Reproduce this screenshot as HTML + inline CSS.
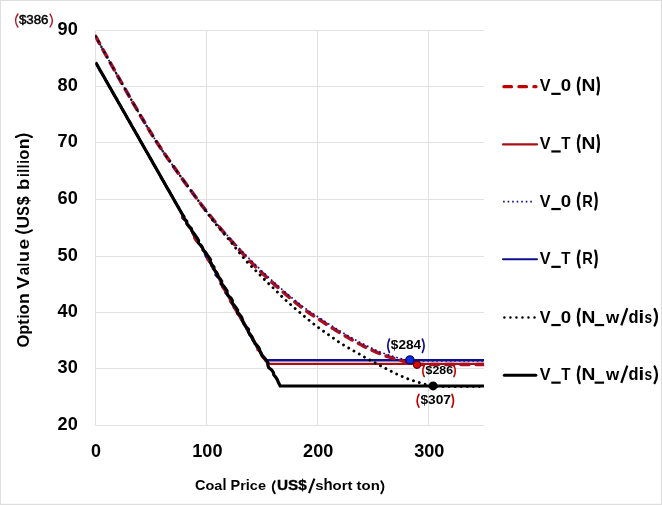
<!DOCTYPE html>
<html lang="en"><head><meta charset="utf-8"><title>Option Value vs Coal Price</title>
<style>html,body{margin:0;padding:0;background:#fff;}svg{display:block;font-family:'Liberation Sans', sans-serif;}text{font-family:'Liberation Sans', sans-serif;fill:#000;}.b{font-weight:700;}</style></head><body>
<svg width="662" height="505" viewBox="0 0 662 505">
<rect x="0" y="0" width="662" height="505" fill="#ffffff"/>
<g fill="#dedede"><rect x="0" y="0" width="662" height="1"/><rect x="0" y="0" width="1" height="505"/><rect x="660.9" y="0" width="1.1" height="505"/><rect x="0" y="503.8" width="662" height="1.2"/></g>
<g stroke="#e1e1e1" stroke-width="1" fill="none" shape-rendering="auto">
<line x1="95.0" y1="425.5" x2="484.0" y2="425.5"/>
<line x1="95.0" y1="368.5" x2="484.0" y2="368.5"/>
<line x1="95.0" y1="312.5" x2="484.0" y2="312.5"/>
<line x1="95.0" y1="256.5" x2="484.0" y2="256.5"/>
<line x1="95.0" y1="199.5" x2="484.0" y2="199.5"/>
<line x1="95.0" y1="142.5" x2="484.0" y2="142.5"/>
<line x1="95.0" y1="86.5" x2="484.0" y2="86.5"/>
<line x1="95.0" y1="30.5" x2="484.0" y2="30.5"/>
<line x1="95.5" y1="30.1" x2="95.5" y2="425.9"/>
<line x1="206.5" y1="30.1" x2="206.5" y2="425.9"/>
<line x1="317.5" y1="30.1" x2="317.5" y2="425.9"/>
<line x1="428.5" y1="30.1" x2="428.5" y2="425.9"/>
</g>
<defs><clipPath id="cP"><rect x="95.2" y="29" width="388.9" height="398"/></clipPath></defs>
<g fill="none" stroke-linejoin="round" clip-path="url(#cP)">
<path d="M97.0,64.8 L98.7,67.8 L100.4,70.8 L102.2,73.8 L103.9,76.8 L105.6,79.8 L107.3,82.8 L109.0,85.8 L110.7,88.8 L112.4,91.8 L114.1,94.8 L115.8,97.8 L117.6,100.8 L119.3,103.8 L121.0,106.8 L122.7,109.8 L124.4,112.8 L126.1,115.8 L127.8,118.8 L129.5,121.8 L131.2,124.8 L133.0,127.8 L134.7,130.8 L136.4,133.8 L138.1,136.8 L139.8,139.8 L141.5,142.8 L143.2,145.8 L144.9,148.8 L146.6,151.8 L148.4,154.8 L150.1,157.8 L151.8,160.8 L153.5,163.8 L155.2,166.8 L156.9,169.8 L158.6,172.8 L160.3,175.8 L162.0,178.8 L163.7,181.8 L165.5,184.8 L167.2,187.8 L168.9,190.8 L170.6,193.8 L172.3,196.8 L174.0,199.8 L175.7,202.8 L177.4,205.8 L179.2,208.8 L180.9,211.8 L182.6,214.8 L182.3,217.8 L185.9,220.8 L186.8,223.8 L189.3,226.8 L191.8,229.8 L192.4,232.8 L194.2,235.8 L194.9,238.8 L197.3,241.8 L199.8,244.8 L202.2,247.8 L204.3,250.8 L205.0,253.8 L206.0,256.8 L208.3,259.8 L211.5,262.8 L211.3,265.8 L213.5,268.8 L216.3,271.8 L215.5,274.8 L218.5,277.8 L221.0,280.8 L220.7,283.8 L223.1,286.8 L225.7,289.8 L225.3,292.8 L228.0,295.8 L230.3,298.8 L231.8,301.8 L232.9,304.8 L233.9,307.8 L236.4,310.8 L237.8,313.8 L239.8,316.8 L241.2,319.8 L244.1,322.8 L245.7,325.8 L246.2,328.8 L248.6,331.8 L249.5,334.8 L251.7,337.8 L253.1,340.8 L255.6,343.8 L256.6,346.8 L258.5,349.8 L260.9,352.8 L261.9,355.8 L264.8,358.8 L265.2,360.3 L484.0,360.3" stroke="#10108c" stroke-width="2.4"/>
<path d="M97.0,64.8 L98.7,67.8 L100.4,70.8 L102.2,73.8 L103.9,76.8 L105.6,79.8 L107.3,82.8 L109.0,85.8 L110.7,88.8 L112.4,91.8 L114.1,94.8 L115.8,97.8 L117.6,100.8 L119.3,103.8 L121.0,106.8 L122.7,109.8 L124.4,112.8 L126.1,115.8 L127.8,118.8 L129.5,121.8 L131.2,124.8 L133.0,127.8 L134.7,130.8 L136.4,133.8 L138.1,136.8 L139.8,139.8 L141.5,142.8 L143.2,145.8 L144.9,148.8 L146.6,151.8 L148.4,154.8 L150.1,157.8 L151.8,160.8 L153.5,163.8 L155.2,166.8 L156.9,169.8 L158.6,172.8 L160.3,175.8 L162.0,178.8 L163.7,181.8 L165.5,184.8 L167.2,187.8 L168.9,190.8 L170.6,193.8 L172.3,196.8 L174.0,199.8 L175.7,202.8 L177.4,205.8 L179.2,208.8 L180.9,211.8 L182.6,214.8 L182.6,217.8 L186.0,220.8 L186.8,223.8 L188.6,226.8 L191.0,229.8 L192.5,232.8 L194.0,235.8 L194.7,238.8 L196.8,241.8 L200.6,244.8 L201.9,247.8 L204.2,250.8 L206.8,253.8 L207.8,256.8 L207.6,259.8 L210.0,262.8 L212.5,265.8 L212.9,268.8 L216.7,271.8 L218.2,274.8 L219.4,277.8 L219.8,280.8 L222.5,283.8 L222.0,286.8 L224.2,289.8 L226.3,292.8 L228.8,295.8 L229.7,298.8 L230.3,301.8 L232.6,304.8 L234.3,307.8 L235.9,310.8 L237.2,313.8 L239.7,316.8 L241.5,319.8 L244.2,322.8 L246.0,325.8 L246.8,328.8 L248.4,331.8 L251.0,334.8 L253.1,337.8 L254.1,340.8 L256.2,343.8 L258.4,346.8 L257.4,349.8 L261.6,352.8 L261.5,355.8 L263.8,358.8 L266.5,361.8 L267.3,363.9 L484.0,363.9" stroke="#a81016" stroke-width="2.3"/>
<path d="M95.6,36.3 L97.6,39.9 L99.6,43.6 L101.6,47.2 L103.6,50.8 L105.6,54.4 L107.6,58.0 L109.6,61.6 L111.6,65.1 L113.6,68.7 L115.6,72.3 L117.6,75.8 L119.6,79.4 L121.6,82.9 L123.6,86.4 L125.6,89.9 L127.6,93.4 L129.6,96.9 L131.6,100.3 L133.6,103.8 L135.6,107.2 L137.6,110.7 L139.6,114.1 L141.6,117.5 L143.6,120.8 L145.6,124.2 L147.6,127.4 L149.6,130.7 L151.6,134.0 L153.6,137.2 L155.6,140.3 L157.6,143.4 L159.6,146.4 L161.6,149.4 L163.6,152.4 L165.6,155.3 L167.6,158.2 L169.6,161.0 L171.6,163.8 L173.6,166.6 L175.6,169.4 L177.6,172.2 L179.6,175.0 L181.6,177.8 L183.6,180.6 L185.6,183.4 L187.6,186.1 L189.6,188.8 L191.6,191.5 L193.6,194.3 L195.6,197.0 L197.6,199.7 L199.6,202.4 L201.6,205.0 L203.6,207.6 L205.6,210.2 L207.6,212.7 L209.6,215.2 L211.6,217.7 L213.6,220.2 L215.6,222.7 L217.6,225.1 L219.6,227.5 L221.6,229.9 L223.6,232.2 L225.6,234.5 L227.6,236.7 L229.6,238.9 L231.6,241.2 L233.6,243.4 L235.6,245.6 L237.6,247.8 L239.6,250.1 L241.6,252.3 L243.6,254.4 L245.6,256.6 L247.6,258.7 L249.6,260.8 L251.6,262.8 L253.6,264.8 L255.6,266.8 L257.6,268.7 L259.6,270.6 L261.6,272.5 L263.6,274.4 L265.6,276.2 L267.6,278.1 L269.6,279.9 L271.6,281.8 L273.6,283.6 L275.6,285.4 L277.6,287.2 L279.6,288.9 L281.6,290.7 L283.6,292.4 L285.6,294.2 L287.6,295.9 L289.6,297.6 L291.6,299.2 L293.6,300.9 L295.6,302.5 L297.6,304.1 L299.6,305.7 L301.6,307.3 L303.6,308.8 L305.6,310.3 L307.6,311.8 L309.6,313.2 L311.6,314.5 L313.6,315.8 L315.6,317.1 L317.6,318.4 L319.6,319.7 L321.6,321.0 L323.6,322.4 L325.6,323.7 L327.6,325.0 L329.6,326.3 L331.6,327.6 L333.6,328.8 L335.6,330.1 L337.6,331.3 L339.6,332.6 L341.6,333.8 L343.6,335.0 L345.6,336.1 L347.6,337.3 L349.6,338.5 L351.6,339.6 L353.6,340.7 L355.6,341.8 L357.6,342.9 L359.6,344.0 L361.6,345.0 L363.6,346.1 L365.6,347.1 L367.6,348.1 L369.6,349.0 L371.6,350.0 L373.6,350.9 L375.6,351.8 L377.6,352.7 L379.6,353.5 L381.6,354.3 L383.6,355.1 L385.6,355.8 L387.6,356.5 L389.6,357.1 L391.6,357.8 L393.6,358.4 L395.6,358.9 L397.6,359.5 L399.6,360.1 L401.6,360.6 L403.6,361.2 L405.6,361.8 L407.6,362.4 L409.6,362.9 L411.6,363.3 L413.6,363.8 L415.6,364.2 L417.6,364.4 L419.6,364.4 L421.6,364.5 L423.6,364.5 L425.6,364.5 L427.6,364.5 L429.6,364.5 L431.6,364.5 L433.6,364.5 L435.6,364.5 L437.6,364.5 L439.6,364.5 L441.6,364.5 L443.6,364.5 L445.6,364.5 L447.6,364.5 L449.6,364.5 L451.6,364.5 L453.6,364.5 L455.6,364.5 L457.6,364.5 L459.6,364.5 L461.6,364.5 L463.6,364.5 L465.6,364.5 L467.6,364.5 L469.6,364.5 L471.6,364.5 L473.6,364.5 L475.6,364.5 L477.6,364.5 L479.6,364.5 L481.6,364.5 L483.6,364.5 L484.0,364.5" stroke="#ac0f20" stroke-width="3.6" stroke-dasharray="8 7.2" stroke-linecap="round"/>
<path d="M95.6,36.3 L97.6,39.9 L99.6,43.6 L101.6,47.2 L103.6,50.8 L105.6,54.4 L107.6,58.0 L109.6,61.6 L111.6,65.1 L113.6,68.7 L115.6,72.3 L117.6,75.8 L119.6,79.4 L121.6,82.9 L123.6,86.4 L125.6,89.9 L127.6,93.4 L129.6,96.9 L131.6,100.3 L133.6,103.8 L135.6,107.2 L137.6,110.7 L139.6,114.1 L141.6,117.5 L143.6,120.8 L145.6,124.2 L147.6,127.5 L149.6,130.7 L151.6,134.0 L153.6,137.2 L155.6,140.3 L157.6,143.4 L159.6,146.4 L161.6,149.4 L163.6,152.4 L165.6,155.3 L167.6,158.2 L169.6,161.0 L171.6,163.8 L173.6,166.6 L175.6,169.4 L177.6,172.2 L179.6,175.0 L181.6,177.8 L183.6,180.6 L185.6,183.4 L187.6,186.1 L189.6,188.9 L191.6,191.6 L193.6,194.4 L195.6,197.1 L197.6,199.7 L199.6,202.4 L201.6,205.0 L203.6,207.6 L205.6,210.1 L207.6,212.6 L209.6,215.1 L211.6,217.5 L213.6,219.9 L215.6,222.3 L217.6,224.6 L219.6,226.9 L221.6,229.1 L223.6,231.4 L225.6,233.5 L227.6,235.7 L229.6,237.9 L231.6,240.1 L233.6,242.2 L235.6,244.4 L237.6,246.5 L239.6,248.6 L241.6,250.8 L243.6,252.8 L245.6,254.9 L247.6,257.0 L249.6,259.0 L251.6,261.0 L253.6,263.0 L255.6,264.9 L257.6,266.9 L259.6,268.8 L261.6,270.8 L263.6,272.7 L265.6,274.5 L267.6,276.4 L269.6,278.2 L271.6,280.1 L273.6,281.9 L275.6,283.7 L277.6,285.5 L279.6,287.2 L281.6,289.0 L283.6,290.7 L285.6,292.5 L287.6,294.2 L289.6,295.9 L291.6,297.5 L293.6,299.2 L295.6,300.8 L297.6,302.4 L299.6,304.0 L301.6,305.6 L303.6,307.1 L305.6,308.6 L307.6,310.1 L309.6,311.5 L311.6,312.8 L313.6,314.1 L315.6,315.4 L317.6,316.7 L319.6,318.0 L321.6,319.3 L323.6,320.6 L325.6,321.9 L327.6,323.2 L329.6,324.5 L331.6,325.8 L333.6,327.0 L335.6,328.3 L337.6,329.5 L339.6,330.8 L341.6,332.0 L343.6,333.2 L345.6,334.4 L347.6,335.5 L349.6,336.7 L351.6,337.8 L353.6,338.9 L355.6,340.0 L357.6,341.1 L359.6,342.2 L361.6,343.2 L363.6,344.2 L365.6,345.2 L367.6,346.2 L369.6,347.2 L371.6,348.1 L373.6,349.1 L375.6,350.0 L377.6,350.8 L379.6,351.7 L381.6,352.4 L383.6,353.2 L385.6,353.9 L387.6,354.6 L389.6,355.3 L391.6,355.9 L393.6,356.5 L395.6,357.1 L397.6,357.7 L399.6,358.2 L401.6,358.7 L403.6,359.2 L405.6,359.7 L407.6,360.1 L409.6,360.4 L411.6,360.6 L413.6,360.7 L415.6,360.8 L417.6,360.9 L419.6,360.9 L421.6,360.9 L423.6,360.9 L425.6,360.9 L427.6,360.9 L429.6,360.9 L431.6,360.9 L433.6,360.9 L435.6,360.9 L437.6,360.9 L439.6,360.9 L441.6,360.9 L443.6,360.9 L445.6,360.9 L447.6,360.9 L449.6,360.9 L451.6,360.9 L453.6,360.9 L455.6,360.9 L457.6,360.9 L459.6,360.9 L461.6,360.9 L463.6,360.9 L465.6,360.9 L467.6,360.9 L469.6,360.9 L471.6,360.9 L473.6,360.9 L475.6,360.9 L477.6,360.9 L479.6,360.9 L481.6,360.9 L483.6,360.9 L484.0,360.9" stroke="#10108c" stroke-width="1.7" stroke-dasharray="1.7 2.8"/>
<defs><clipPath id="cA"><rect x="0" y="0" width="204" height="505"/></clipPath><clipPath id="cB"><rect x="204" y="0" width="458" height="505"/></clipPath></defs>
<path d="M95.6,36.3 L97.6,39.9 L99.6,43.6 L101.6,47.2 L103.6,50.8 L105.6,54.4 L107.6,58.0 L109.6,61.6 L111.6,65.1 L113.6,68.7 L115.6,72.3 L117.6,75.8 L119.6,79.4 L121.6,82.9 L123.6,86.4 L125.6,89.9 L127.6,93.4 L129.6,96.9 L131.6,100.3 L133.6,103.8 L135.6,107.2 L137.6,110.7 L139.6,114.1 L141.6,117.5 L143.6,120.8 L145.6,124.2 L147.6,127.4 L149.6,130.7 L151.6,134.0 L153.6,137.2 L155.6,140.3 L157.6,143.4 L159.6,146.4 L161.6,149.4 L163.6,152.4 L165.6,155.3 L167.6,158.2 L169.6,161.0 L171.6,163.8 L173.6,166.6 L175.6,169.4 L177.6,172.2 L179.6,175.0 L181.6,177.8 L183.6,180.6 L185.6,183.4 L187.6,186.1 L189.6,188.8 L191.6,191.5 L193.6,194.3 L195.6,197.0 L197.6,199.7 L199.6,202.5 L201.6,205.2 L203.6,207.9 L205.6,210.6 L207.6,213.3 L209.6,216.0 L211.6,218.6 L213.6,221.2 L215.6,223.7 L217.6,226.2 L219.6,228.5 L221.6,230.9 L223.6,233.3 L225.6,235.7 L227.6,238.0 L229.6,240.5 L231.6,242.9 L233.6,245.4 L235.6,248.0 L237.6,250.5 L239.6,253.0 L241.6,255.5 L243.6,257.9 L245.6,260.3 L247.6,262.4 L249.6,264.5 L251.6,266.5 L253.6,268.5 L255.6,270.5 L257.6,272.6 L259.6,274.6 L261.6,276.6 L263.6,278.6 L265.6,280.6 L267.6,282.5 L269.6,284.5 L271.6,286.4 L273.6,288.3 L275.6,290.3 L277.6,292.3 L279.6,294.3 L281.6,296.3 L283.6,298.2 L285.6,300.1 L287.6,301.9 L289.6,303.7 L291.6,305.4 L293.6,307.2 L295.6,308.9 L297.6,310.6 L299.6,312.3 L301.6,314.0 L303.6,315.7 L305.6,317.4 L307.6,319.0 L309.6,320.7 L311.6,322.3 L313.6,323.9 L315.6,325.4 L317.6,327.0 L319.6,328.4 L321.6,329.9 L323.6,331.3 L325.6,332.7 L327.6,334.1 L329.6,335.5 L331.6,336.9 L333.6,338.3 L335.6,339.8 L337.6,341.2 L339.6,342.5 L341.6,343.8 L343.6,345.1 L345.6,346.3 L347.6,347.4 L349.6,348.6 L351.6,349.7 L353.6,350.9 L355.6,352.0 L357.6,353.2 L359.6,354.3 L361.6,355.5 L363.6,356.6 L365.6,357.8 L367.6,358.9 L369.6,360.0 L371.6,361.0 L373.6,362.1 L375.6,363.1 L377.6,364.2 L379.6,365.3 L381.6,366.3 L383.6,367.4 L385.6,368.4 L387.6,369.4 L389.6,370.5 L391.6,371.5 L393.6,372.5 L395.6,373.5 L397.6,374.4 L399.6,375.4 L401.6,376.2 L403.6,377.1 L405.6,377.9 L407.6,378.7 L409.6,379.4 L411.6,380.1 L413.6,380.8 L415.6,381.5 L417.6,382.1 L419.6,382.7 L421.6,383.3 L423.6,383.9 L425.6,384.5 L427.6,385.0 L429.6,385.5 L431.6,385.9 L433.6,386.2 L435.6,386.4 L437.6,386.5 L439.6,386.6 L441.6,386.6 L443.6,386.6 L445.6,386.6 L447.6,386.6 L449.6,386.6 L451.6,386.6 L453.6,386.6 L455.6,386.6 L457.6,386.6 L459.6,386.6 L461.6,386.6 L463.6,386.6 L465.6,386.6 L467.6,386.6 L469.6,386.6 L471.6,386.6 L473.6,386.6 L475.6,386.6 L477.6,386.6 L479.6,386.6 L481.6,386.6 L483.6,386.6 L484.0,386.6" clip-path="url(#cA)" stroke="#0a0204" stroke-opacity="0.9" stroke-width="2.5" stroke-dasharray="0.01 6.05" stroke-linecap="round"/>
<path d="M95.6,36.3 L97.6,39.9 L99.6,43.6 L101.6,47.2 L103.6,50.8 L105.6,54.4 L107.6,58.0 L109.6,61.6 L111.6,65.1 L113.6,68.7 L115.6,72.3 L117.6,75.8 L119.6,79.4 L121.6,82.9 L123.6,86.4 L125.6,89.9 L127.6,93.4 L129.6,96.9 L131.6,100.3 L133.6,103.8 L135.6,107.2 L137.6,110.7 L139.6,114.1 L141.6,117.5 L143.6,120.8 L145.6,124.2 L147.6,127.4 L149.6,130.7 L151.6,134.0 L153.6,137.2 L155.6,140.3 L157.6,143.4 L159.6,146.4 L161.6,149.4 L163.6,152.4 L165.6,155.3 L167.6,158.2 L169.6,161.0 L171.6,163.8 L173.6,166.6 L175.6,169.4 L177.6,172.2 L179.6,175.0 L181.6,177.8 L183.6,180.6 L185.6,183.4 L187.6,186.1 L189.6,188.8 L191.6,191.5 L193.6,194.3 L195.6,197.0 L197.6,199.7 L199.6,202.5 L201.6,205.2 L203.6,207.9 L205.6,210.6 L207.6,213.3 L209.6,216.0 L211.6,218.6 L213.6,221.2 L215.6,223.7 L217.6,226.2 L219.6,228.5 L221.6,230.9 L223.6,233.3 L225.6,235.7 L227.6,238.0 L229.6,240.5 L231.6,242.9 L233.6,245.4 L235.6,248.0 L237.6,250.5 L239.6,253.0 L241.6,255.5 L243.6,257.9 L245.6,260.3 L247.6,262.4 L249.6,264.5 L251.6,266.5 L253.6,268.5 L255.6,270.5 L257.6,272.6 L259.6,274.6 L261.6,276.6 L263.6,278.6 L265.6,280.6 L267.6,282.5 L269.6,284.5 L271.6,286.4 L273.6,288.3 L275.6,290.3 L277.6,292.3 L279.6,294.3 L281.6,296.3 L283.6,298.2 L285.6,300.1 L287.6,301.9 L289.6,303.7 L291.6,305.4 L293.6,307.2 L295.6,308.9 L297.6,310.6 L299.6,312.3 L301.6,314.0 L303.6,315.7 L305.6,317.4 L307.6,319.0 L309.6,320.7 L311.6,322.3 L313.6,323.9 L315.6,325.4 L317.6,327.0 L319.6,328.4 L321.6,329.9 L323.6,331.3 L325.6,332.7 L327.6,334.1 L329.6,335.5 L331.6,336.9 L333.6,338.3 L335.6,339.8 L337.6,341.2 L339.6,342.5 L341.6,343.8 L343.6,345.1 L345.6,346.3 L347.6,347.4 L349.6,348.6 L351.6,349.7 L353.6,350.9 L355.6,352.0 L357.6,353.2 L359.6,354.3 L361.6,355.5 L363.6,356.6 L365.6,357.8 L367.6,358.9 L369.6,360.0 L371.6,361.0 L373.6,362.1 L375.6,363.1 L377.6,364.2 L379.6,365.3 L381.6,366.3 L383.6,367.4 L385.6,368.4 L387.6,369.4 L389.6,370.5 L391.6,371.5 L393.6,372.5 L395.6,373.5 L397.6,374.4 L399.6,375.4 L401.6,376.2 L403.6,377.1 L405.6,377.9 L407.6,378.7 L409.6,379.4 L411.6,380.1 L413.6,380.8 L415.6,381.5 L417.6,382.1 L419.6,382.7 L421.6,383.3 L423.6,383.9 L425.6,384.5 L427.6,385.0 L429.6,385.5 L431.6,385.9 L433.6,386.2 L435.6,386.4 L437.6,386.5 L439.6,386.6 L441.6,386.6 L443.6,386.6 L445.6,386.6 L447.6,386.6 L449.6,386.6 L451.6,386.6 L453.6,386.6 L455.6,386.6 L457.6,386.6 L459.6,386.6 L461.6,386.6 L463.6,386.6 L465.6,386.6 L467.6,386.6 L469.6,386.6 L471.6,386.6 L473.6,386.6 L475.6,386.6 L477.6,386.6 L479.6,386.6 L481.6,386.6 L483.6,386.6 L484.0,386.6" clip-path="url(#cB)" stroke="#000" stroke-width="2.9" stroke-dasharray="0.01 6.05" stroke-linecap="round"/>
<path d="M95.6,62.3 L97.3,65.3 L98.7,67.7 L100.0,70.1 L101.4,72.5 L102.8,74.9 L104.2,77.3 L105.5,79.7 L106.9,82.1 L108.3,84.5 L109.6,86.9 L111.0,89.3 L112.4,91.7 L113.7,94.1 L115.1,96.5 L116.5,98.9 L117.8,101.3 L119.2,103.7 L120.6,106.1 L121.9,108.5 L123.3,110.9 L124.7,113.3 L126.1,115.7 L127.4,118.1 L128.8,120.5 L130.2,122.9 L131.5,125.3 L132.9,127.7 L134.3,130.1 L135.6,132.5 L137.0,134.9 L138.4,137.3 L139.7,139.7 L141.1,142.1 L142.5,144.5 L143.8,146.9 L145.2,149.3 L146.6,151.7 L148.0,154.1 L149.3,156.5 L150.7,158.9 L152.1,161.3 L153.4,163.7 L154.8,166.1 L156.2,168.5 L157.5,170.9 L158.9,173.3 L160.3,175.7 L161.6,178.1 L163.0,180.5 L164.4,182.9 L165.7,185.3 L167.1,187.7 L168.5,190.1 L169.9,192.5 L171.2,194.9 L172.6,197.3 L174.0,199.7 L175.3,202.1 L176.7,204.5 L178.1,206.9 L179.4,209.3 L180.8,211.7 L182.2,214.1 L184.0,216.5 L184.3,218.9 L186.7,221.3 L186.9,223.7 L188.9,226.1 L191.3,228.5 L191.9,230.9 L193.7,233.3 L195.5,235.7 L197.2,238.1 L198.5,240.5 L198.5,242.9 L200.9,245.3 L202.5,247.7 L203.1,250.1 L205.6,252.5 L207.1,254.9 L209.0,257.3 L210.5,259.7 L210.2,262.1 L211.7,264.5 L213.9,266.9 L214.1,269.3 L215.5,271.7 L217.4,274.1 L217.8,276.5 L220.3,278.9 L221.7,281.3 L221.3,283.7 L223.6,286.1 L225.4,288.5 L227.1,290.9 L227.0,293.3 L228.1,295.7 L230.9,298.1 L232.3,300.5 L232.2,302.9 L234.1,305.3 L236.0,307.7 L237.6,310.1 L237.6,312.5 L240.0,314.9 L241.6,317.3 L242.5,319.7 L243.1,322.1 L244.2,324.5 L246.1,326.9 L248.5,329.3 L248.3,331.7 L249.6,334.1 L251.7,336.5 L252.5,338.9 L254.0,341.3 L255.1,343.7 L257.5,346.1 L259.2,348.5 L260.0,350.9 L260.8,353.3 L262.6,355.7 L264.5,358.1 L266.5,360.5 L268.0,362.9 L267.9,365.3 L268.8,367.7 L271.8,370.1 L273.4,372.5 L273.8,374.9 L275.8,377.3 L277.3,379.7 L278.2,382.1 L280.2,386.0 L484.0,386.0" stroke="#000" stroke-width="3.2" stroke-linejoin="miter"/>
</g>
<circle cx="409.9" cy="359.9" r="4.1" fill="#0a2be0" stroke="#00004a" stroke-width="1"/>
<circle cx="417.0" cy="364.8" r="3.7" fill="#d40a0a" stroke="#4a0000" stroke-width="1"/>
<circle cx="433.1" cy="385.9" r="4.5" fill="#000"/>
<path d="M15.90,230.40 Q23.90,235.40 31.90,230.40" fill="none" stroke="#000" stroke-width="2.1" stroke-linecap="round"/>
<path d="M15.90,137.00 Q23.90,132.20 31.90,137.00" fill="none" stroke="#000" stroke-width="2.1" stroke-linecap="round"/>
<path d="M274.73,481.17 Q270.77,487.25 274.73,493.33" fill="none" stroke="#000" stroke-width="1.9" stroke-linecap="round"/>
<line x1="309.0" y1="493.2" x2="314.4" y2="478.6" stroke="#000" stroke-width="2.1"/>
<path d="M381.27,481.17 Q385.63,487.25 381.27,493.33" fill="none" stroke="#000" stroke-width="1.9" stroke-linecap="round"/>
<path d="M17.91,14.02 Q13.29,20.50 17.91,26.98" fill="none" stroke="#b01020" stroke-width="1.4" stroke-linecap="round"/>
<path d="M50.09,14.02 Q54.51,20.50 50.09,26.98" fill="none" stroke="#b01020" stroke-width="1.4" stroke-linecap="round"/>
<path d="M389.40,339.11 Q386.30,345.75 389.40,352.39" fill="none" stroke="#10108c" stroke-width="1.7" stroke-linecap="round"/>
<path d="M422.40,339.11 Q425.70,345.75 422.40,352.39" fill="none" stroke="#10108c" stroke-width="1.7" stroke-linecap="round"/>
<path d="M424.24,365.68 Q421.36,371.15 424.24,376.62" fill="none" stroke="#c00000" stroke-width="1.6" stroke-linecap="round"/>
<path d="M453.86,365.68 Q456.74,371.15 453.86,376.62" fill="none" stroke="#c00000" stroke-width="1.6" stroke-linecap="round"/>
<path d="M418.90,394.31 Q415.40,400.75 418.90,407.19" fill="none" stroke="#c00000" stroke-width="1.7" stroke-linecap="round"/>
<path d="M452.00,394.31 Q454.90,400.75 452.00,407.19" fill="none" stroke="#c00000" stroke-width="1.7" stroke-linecap="round"/>
<g fill="none">
<line x1="503.9" y1="86.7" x2="536.0" y2="86.7" stroke="#c00000" stroke-width="3.2" stroke-dasharray="7.6 7.4" stroke-linecap="round"/>
<line x1="503.0" y1="144.4" x2="537.0" y2="144.4" stroke="#a81016" stroke-width="2.1" stroke-linecap="round"/>
<line x1="503.1" y1="201.6" x2="532.0" y2="201.6" stroke="#10108c" stroke-width="1.6" stroke-dasharray="1.6 2.93"/>
<line x1="503.0" y1="259.2" x2="537.0" y2="259.2" stroke="#10108c" stroke-width="2.1" stroke-linecap="round"/>
<line x1="504.4" y1="317.5" x2="535.0" y2="317.5" stroke="#000" stroke-width="2.5" stroke-dasharray="0.01 6.01" stroke-linecap="round"/>
<line x1="504.4" y1="375.3" x2="535.8" y2="375.3" stroke="#000" stroke-width="3.1" stroke-linecap="round"/>
</g>
<rect x="551.3" y="92.75" width="9.4" height="2.2" fill="#000"/>
<path d="M579.60,77.69 Q576.30,86.00 579.60,94.31" fill="none" stroke="#000" stroke-width="2.3" stroke-linecap="round"/>
<path d="M597.60,77.69 Q600.10,86.00 597.60,94.31" fill="none" stroke="#000" stroke-width="2.3" stroke-linecap="round"/>
<rect x="551.3" y="150.35" width="9.4" height="2.2" fill="#000"/>
<path d="M579.60,135.29 Q576.30,143.60 579.60,151.91" fill="none" stroke="#000" stroke-width="2.3" stroke-linecap="round"/>
<path d="M597.60,135.29 Q600.10,143.60 597.60,151.91" fill="none" stroke="#000" stroke-width="2.3" stroke-linecap="round"/>
<rect x="551.3" y="207.95" width="9.4" height="2.2" fill="#000"/>
<path d="M579.60,192.89 Q576.30,201.20 579.60,209.51" fill="none" stroke="#000" stroke-width="2.3" stroke-linecap="round"/>
<path d="M595.30,192.89 Q598.00,201.20 595.30,209.51" fill="none" stroke="#000" stroke-width="2.3" stroke-linecap="round"/>
<rect x="551.3" y="265.75" width="9.4" height="2.2" fill="#000"/>
<path d="M579.60,250.69 Q576.30,259.00 579.60,267.31" fill="none" stroke="#000" stroke-width="2.3" stroke-linecap="round"/>
<path d="M595.30,250.69 Q598.00,259.00 595.30,267.31" fill="none" stroke="#000" stroke-width="2.3" stroke-linecap="round"/>
<rect x="551.3" y="323.95" width="9.4" height="2.2" fill="#000"/>
<path d="M579.60,308.89 Q576.30,317.20 579.60,325.51" fill="none" stroke="#000" stroke-width="2.3" stroke-linecap="round"/>
<rect x="594.6" y="323.95" width="9.5" height="2.2" fill="#000"/>
<line x1="621.3" y1="325.30" x2="627.3" y2="308.10" stroke="#000" stroke-width="2.3"/>
<path d="M654.60,308.89 Q659.30,317.20 654.60,325.51" fill="none" stroke="#000" stroke-width="2.3" stroke-linecap="round"/>
<rect x="551.3" y="381.55" width="9.4" height="2.2" fill="#000"/>
<path d="M579.60,366.49 Q576.30,374.80 579.60,383.11" fill="none" stroke="#000" stroke-width="2.3" stroke-linecap="round"/>
<rect x="594.6" y="381.55" width="9.5" height="2.2" fill="#000"/>
<line x1="621.3" y1="382.90" x2="627.3" y2="365.70" stroke="#000" stroke-width="2.3"/>
<path d="M654.60,366.49 Q659.30,374.80 654.60,383.11" fill="none" stroke="#000" stroke-width="2.3" stroke-linecap="round"/>
<defs><filter id="gs" x="0" y="0" width="662" height="505" filterUnits="userSpaceOnUse" color-interpolation-filters="sRGB"><feColorMatrix type="saturate" values="0"/></filter></defs>
<g filter="url(#gs)">
<text x="77.8" y="430.4" font-size="17.6" text-anchor="end" class="b" textLength="20.2" lengthAdjust="spacingAndGlyphs">20</text>
<text x="77.8" y="373.4" font-size="17.6" text-anchor="end" class="b" textLength="20.2" lengthAdjust="spacingAndGlyphs">30</text>
<text x="77.8" y="317.4" font-size="17.6" text-anchor="end" class="b" textLength="20.2" lengthAdjust="spacingAndGlyphs">40</text>
<text x="77.8" y="261.4" font-size="17.6" text-anchor="end" class="b" textLength="20.2" lengthAdjust="spacingAndGlyphs">50</text>
<text x="77.8" y="204.4" font-size="17.6" text-anchor="end" class="b" textLength="20.2" lengthAdjust="spacingAndGlyphs">60</text>
<text x="77.8" y="147.4" font-size="17.6" text-anchor="end" class="b" textLength="20.2" lengthAdjust="spacingAndGlyphs">70</text>
<text x="77.8" y="91.4" font-size="17.6" text-anchor="end" class="b" textLength="20.2" lengthAdjust="spacingAndGlyphs">80</text>
<text x="77.8" y="35.4" font-size="17.6" text-anchor="end" class="b" textLength="20.2" lengthAdjust="spacingAndGlyphs">90</text>
<text x="91.0" y="456.9" font-size="17.6" text-anchor="start" class="b" textLength="10.0" lengthAdjust="spacingAndGlyphs">0</text>
<text x="192.3" y="456.9" font-size="17.6" text-anchor="start" class="b" textLength="30.2" lengthAdjust="spacingAndGlyphs">100</text>
<text x="303.1" y="456.9" font-size="17.6" text-anchor="start" class="b" textLength="30.2" lengthAdjust="spacingAndGlyphs">200</text>
<text x="414.2" y="456.9" font-size="17.6" text-anchor="start" class="b" textLength="30.2" lengthAdjust="spacingAndGlyphs">300</text>
<text transform="translate(28.50,347.53) rotate(-90) scale(0.974,1.000)" font-size="17.0" class="b">O</text>
<text transform="translate(28.50,334.84) rotate(-90) scale(0.969,1.000)" font-size="17.0" class="b">p</text>
<text transform="translate(28.50,324.76) rotate(-90) scale(0.991,1.000)" font-size="17.0" class="b">t</text>
<text transform="translate(28.50,318.57) rotate(-90) scale(0.857,1.000)" font-size="17.0" class="b">i</text>
<text transform="translate(28.50,314.60) rotate(-90) scale(0.972,1.000)" font-size="17.0" class="b">o</text>
<text transform="translate(28.50,304.12) rotate(-90) scale(1.048,1.000)" font-size="17.0" class="b">n</text>
<text transform="translate(28.50,288.88) rotate(-90) scale(1.107,1.000)" font-size="17.0" class="b">V</text>
<text transform="translate(28.50,275.28) rotate(-90) scale(0.872,1.000)" font-size="17.0" class="b">a</text>
<text transform="translate(28.50,266.16) rotate(-90) scale(0.686,1.000)" font-size="17.0" class="b">l</text>
<text transform="translate(28.50,262.05) rotate(-90) scale(1.048,1.000)" font-size="17.0" class="b">u</text>
<text transform="translate(28.50,249.59) rotate(-90) scale(1.121,1.000)" font-size="17.0" class="b">e</text>
<text transform="translate(28.50,228.39) rotate(-90) scale(1.018,1.000)" font-size="17.0" class="b">U</text>
<text transform="translate(28.50,215.76) rotate(-90) scale(0.844,1.000)" font-size="17.0" class="b">S</text>
<text transform="translate(28.50,205.36) rotate(-90) scale(0.946,1.000)" font-size="17.0" class="b">$</text>
<text transform="translate(28.50,189.98) rotate(-90) scale(1.097,1.000)" font-size="17.0" class="b">b</text>
<text transform="translate(28.50,177.07) rotate(-90) scale(0.772,1.000)" font-size="17.0" class="b">i</text>
<text transform="translate(28.50,172.72) rotate(-90) scale(0.815,1.000)" font-size="17.0" class="b">l</text>
<text transform="translate(28.50,168.37) rotate(-90) scale(0.772,1.000)" font-size="17.0" class="b">l</text>
<text transform="translate(28.50,163.77) rotate(-90) scale(0.772,1.000)" font-size="17.0" class="b">i</text>
<text transform="translate(28.50,159.70) rotate(-90) scale(0.972,1.000)" font-size="17.0" class="b">o</text>
<text transform="translate(28.50,149.22) rotate(-90) scale(1.048,1.000)" font-size="17.0" class="b">n</text>
<text transform="translate(195.00,490.4) scale(1.083,1.100)" font-size="13.4" class="b">C</text>
<text transform="translate(205.48,490.4) scale(1.083,1.000)" font-size="13.4" class="b">o</text>
<text transform="translate(214.35,490.4) scale(1.083,1.000)" font-size="13.4" class="b">a</text>
<text transform="translate(222.42,490.4) scale(1.083,1.200)" font-size="13.4" class="b">l</text>
<text transform="translate(230.49,490.4) scale(1.083,1.100)" font-size="13.4" class="b">P</text>
<text transform="translate(240.17,490.4) scale(1.083,1.000)" font-size="13.4" class="b">r</text>
<text transform="translate(245.82,490.4) scale(1.083,1.120)" font-size="13.4" class="b">i</text>
<text transform="translate(249.85,490.4) scale(1.083,1.000)" font-size="13.4" class="b">c</text>
<text transform="translate(257.93,490.4) scale(1.083,1.000)" font-size="13.4" class="b">e</text>
<text transform="translate(277.00,490.4) scale(1.021,1.000)" font-size="15.0" class="b" stroke="#000" stroke-width="0.35">U</text>
<text transform="translate(288.06,490.4) scale(1.021,1.000)" font-size="15.0" class="b" stroke="#000" stroke-width="0.35">S</text>
<text transform="translate(298.28,490.4) scale(1.021,1.000)" font-size="15.0" class="b" stroke="#000" stroke-width="0.35">$</text>
<text transform="translate(315.20,490.4) scale(1.113,1.000)" font-size="13.4" class="b">s</text>
<text transform="translate(323.49,490.4) scale(1.113,1.220)" font-size="13.4" class="b">h</text>
<text transform="translate(332.60,490.4) scale(1.113,1.000)" font-size="13.4" class="b">o</text>
<text transform="translate(341.71,490.4) scale(1.113,1.000)" font-size="13.4" class="b">r</text>
<text transform="translate(347.51,490.4) scale(1.113,0.950)" font-size="13.4" class="b">t</text>
<text transform="translate(356.62,490.4) scale(1.113,0.950)" font-size="13.4" class="b">t</text>
<text transform="translate(361.58,490.4) scale(1.113,1.000)" font-size="13.4" class="b">o</text>
<text transform="translate(370.69,490.4) scale(1.113,1.000)" font-size="13.4" class="b">n</text>
<text x="18.9" y="23.9" font-size="12.7" stroke="#000" stroke-width="0.45" textLength="29.6" lengthAdjust="spacingAndGlyphs">$386</text>
<text x="390.8" y="349.3" font-size="13.0" class="b" textLength="30.4" lengthAdjust="spacingAndGlyphs">$284</text>
<text x="425.6" y="374.4" font-size="11.8" class="b" textLength="27.4" lengthAdjust="spacingAndGlyphs">$286</text>
<text x="420.4" y="404.4" font-size="13.2" class="b" textLength="30.6" lengthAdjust="spacingAndGlyphs">$307</text>
<text transform="translate(539.69,91.40) scale(0.954,1.000)" font-size="17.0" class="b">V</text>
<text transform="translate(560.86,91.40) scale(1.101,1.000)" font-size="17.0" class="b">0</text>
<text transform="translate(581.51,91.40) scale(1.131,1.000)" font-size="17.0" class="b">N</text>
<text transform="translate(539.69,149.00) scale(0.954,1.000)" font-size="17.0" class="b">V</text>
<text transform="translate(561.33,149.00) scale(0.889,1.000)" font-size="17.0" class="b">T</text>
<text transform="translate(581.51,149.00) scale(1.131,1.000)" font-size="17.0" class="b">N</text>
<text transform="translate(539.69,206.60) scale(0.954,1.000)" font-size="17.0" class="b">V</text>
<text transform="translate(560.86,206.60) scale(1.101,1.000)" font-size="17.0" class="b">0</text>
<text transform="translate(582.22,206.60) scale(0.862,1.000)" font-size="17.0" class="b">R</text>
<text transform="translate(539.69,264.40) scale(0.954,1.000)" font-size="17.0" class="b">V</text>
<text transform="translate(561.33,264.40) scale(0.889,1.000)" font-size="17.0" class="b">T</text>
<text transform="translate(582.22,264.40) scale(0.862,1.000)" font-size="17.0" class="b">R</text>
<text transform="translate(539.69,322.60) scale(0.954,1.000)" font-size="17.0" class="b">V</text>
<text transform="translate(560.86,322.60) scale(1.101,1.000)" font-size="17.0" class="b">0</text>
<text transform="translate(581.51,322.60) scale(1.131,1.000)" font-size="17.0" class="b">N</text>
<text transform="translate(605.95,322.60) scale(1.000,1.000)" font-size="17.0" class="b">w</text>
<text transform="translate(628.52,322.60) scale(0.969,1.030)" font-size="17.0" class="b">d</text>
<text transform="translate(638.48,322.60) scale(1.200,1.030)" font-size="17.0" class="b">i</text>
<text transform="translate(644.52,322.60) scale(0.809,1.000)" font-size="17.0" class="b">s</text>
<text transform="translate(539.69,380.20) scale(0.954,1.000)" font-size="17.0" class="b">V</text>
<text transform="translate(561.33,380.20) scale(0.889,1.000)" font-size="17.0" class="b">T</text>
<text transform="translate(581.51,380.20) scale(1.131,1.000)" font-size="17.0" class="b">N</text>
<text transform="translate(605.95,380.20) scale(1.000,1.000)" font-size="17.0" class="b">w</text>
<text transform="translate(628.52,380.20) scale(0.969,1.030)" font-size="17.0" class="b">d</text>
<text transform="translate(638.48,380.20) scale(1.200,1.030)" font-size="17.0" class="b">i</text>
<text transform="translate(644.52,380.20) scale(0.809,1.000)" font-size="17.0" class="b">s</text>
</g>
</svg></body></html>
